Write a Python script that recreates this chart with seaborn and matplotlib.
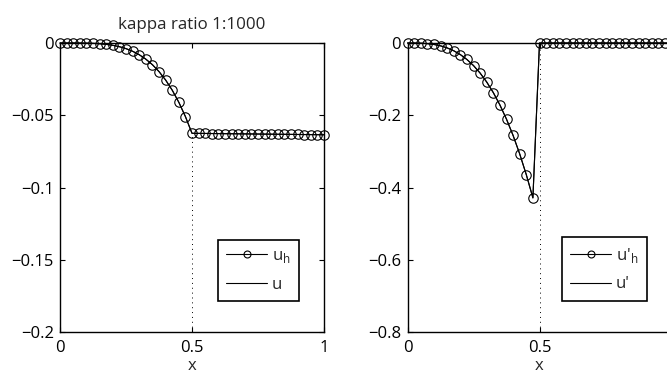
import matplotlib
matplotlib.use("Agg")
import matplotlib.pyplot as plt
import seaborn as sns
import pandas as pd
from matplotlib.lines import Line2D

# ---- data ----
x_nodes = [0.0, 0.025, 0.05, 0.075, 0.1, 0.125, 0.15, 0.175, 0.2, 0.225,
           0.25, 0.275, 0.3, 0.325, 0.35, 0.375, 0.4, 0.425, 0.45, 0.475,
           0.5, 0.525, 0.55, 0.575, 0.6, 0.625, 0.65, 0.675, 0.7, 0.725,
           0.75, 0.775, 0.8, 0.825, 0.85, 0.875, 0.9, 0.925, 0.95, 0.975, 1.0]
u_h = [0.0, -0.0000004, -0.0000063, -0.0000316, -0.0001, -0.000244, -0.000506,
       -0.000938, -0.0016, -0.00256, -0.0039, -0.00572, -0.0081, -0.01116,
       -0.0150, -0.01978, -0.0256, -0.03262, -0.0410, -0.0509, -0.0625,
       -0.06255, -0.0626, -0.06265, -0.0627, -0.06275, -0.0628, -0.06285,
       -0.0629, -0.06295, -0.0630, -0.06305, -0.0631, -0.06315, -0.0632,
       -0.06325, -0.0633, -0.06335, -0.0634, -0.06345, -0.0635]
du_h = [0.0, -0.0000625, -0.0005, -0.00169, -0.004, -0.00781, -0.0135, -0.02144,
        -0.032, -0.04556, -0.0625, -0.08319, -0.108, -0.13731, -0.1715,
        -0.21094, -0.256, -0.30706, -0.3645, -0.42869, 0.0, 0.0, 0.0, 0.0,
        0.0, 0.0, 0.0, 0.0, 0.0, 0.0, 0.0, 0.0, 0.0, 0.0, 0.0, 0.0, 0.0,
        0.0, 0.0, 0.0, 0.0]
interface_x = 0.5
title_text = "kappa ratio 1:1000"
left_yticks = [0, -0.05, -0.1, -0.15, -0.2]
left_yticklabels = ["0", "\u22120.05", "\u22120.1", "\u22120.15", "\u22120.2"]
right_yticks = [0, -0.2, -0.4, -0.6, -0.8]
right_yticklabels = ["0", "\u22120.2", "\u22120.4", "\u22120.6", "\u22120.8"]
xticks = [0, 0.5, 1]
left_xticklabels = ["0", "0.5", "1"]
right_xticklabels = ["0", "0.5", ""]   # "1" falls outside the picture

df = pd.DataFrame({"x": x_nodes, "u_h": u_h, "du_h": du_h})

sns.set_style("ticks")
plt.rcParams["font.family"] = ["Open Sans", "DejaVu Sans"]
plt.rcParams.update({
    "xtick.direction": "in", "ytick.direction": "in",
    "xtick.top": True, "ytick.right": True,
    "xtick.major.size": 3.5, "ytick.major.size": 3.5,
    "xtick.major.width": 0.8, "ytick.major.width": 0.8,
    "xtick.major.pad": 6, "ytick.major.pad": 4.5,
    "axes.linewidth": 1.0, "axes.edgecolor": "black",
    "xtick.color": "black", "ytick.color": "black",
    "font.size": 12, "xtick.labelsize": 12, "ytick.labelsize": 12,
})

fig = plt.figure(figsize=(6.67, 3.78), dpi=100)
W, H = 667.0, 378.0
ax1 = fig.add_axes([60 / W, 1 - 332 / H, 264 / W, 289 / H])
ax2 = fig.add_axes([407.5 / W, 1 - 332 / H, 264 / W, 289 / H])

def draw(ax, ycol, ymin, ymax, yticks, yticklabels, xticklabels,
         lab_h, lab_e, bbox):
    sns.lineplot(data=df, x="x", y=ycol, ax=ax, color="black", lw=0.8,
                 clip_on=False, legend=False)
    sns.lineplot(data=df, x="x", y=ycol, ax=ax, color="black", lw=0.8,
                 marker="o", markersize=6.8, markerfacecolor="none",
                 markeredgecolor="black", markeredgewidth=0.8,
                 clip_on=False, legend=False)
    yint = df.loc[df["x"] == interface_x, ycol].iloc[0]
    ax.plot([interface_x, interface_x], [ymin, yint], color="black",
            lw=0.7, linestyle=(0, (1, 4)))
    ax.set_xlim(0, 1)
    ax.set_ylim(ymin, ymax)
    ax.set_xticks(xticks)
    ax.set_xticklabels(xticklabels)
    ax.set_yticks(yticks)
    ax.set_yticklabels(yticklabels)
    ax.set_xlabel("x", labelpad=1.5)
    ax.set_ylabel("")
    for s in ax.spines.values():
        s.set_visible(True)
    h1 = Line2D([], [], color="black", lw=0.8, marker="o", markersize=5,
                markerfacecolor="none", markeredgecolor="black",
                markeredgewidth=0.8)
    h2 = Line2D([], [], color="black", lw=0.8)
    leg = ax.legend([h1, h2], [lab_h, lab_e], loc="lower right",
                    bbox_to_anchor=bbox, borderaxespad=0, numpoints=1,
                    fancybox=False, framealpha=1, edgecolor="black",
                    handlelength=2.45, handletextpad=0.3, labelspacing=0.7,
                    borderpad=0.5, fontsize=12)
    leg.get_frame().set_linewidth(1.2)

draw(ax1, "u_h", -0.2, 0, left_yticks, left_yticklabels, left_xticklabels,
     "u$_\\mathregular{h}$", "u", (0.905, 0.107))
draw(ax2, "du_h", -0.8, 0, right_yticks, right_yticklabels, right_xticklabels,
     "u'$_\\mathregular{h}$", "u'", (0.906, 0.108))
ax1.set_title(title_text, fontsize=12.2, pad=10)

fig.savefig("out.png", dpi=100)
